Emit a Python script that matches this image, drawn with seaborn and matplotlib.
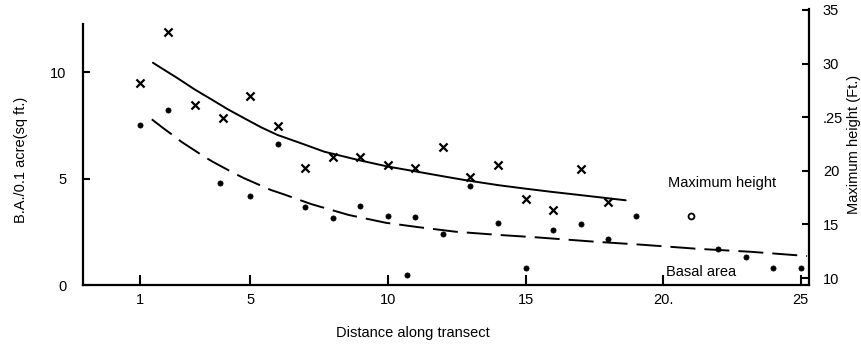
import matplotlib
matplotlib.use("Agg")
import matplotlib.pyplot as plt
import seaborn as sns
from matplotlib import font_manager

# ---------------- data ----------------
height_dist = [1, 2, 3, 4, 5, 6, 7, 8, 9, 10, 11, 12, 13, 14, 15, 16, 17, 18]
height_ft = [28.2, 32.9, 26.1, 24.9, 27.0, 24.2, 20.3, 21.3, 21.3, 20.5,
             20.3, 22.2, 19.4, 20.5, 17.4, 16.3, 20.2, 17.1]

basal_dist = [1, 2, 3.9, 5, 6, 7, 8, 9, 10, 10.7, 11, 12, 13, 14, 15, 16, 17,
              18, 19, 22, 23, 24, 25]
basal_sqft = [7.5, 8.2, 4.8, 4.2, 6.6, 3.65, 3.15, 3.7, 3.25, 0.45, 3.2, 2.4,
              4.65, 2.9, 0.8, 2.6, 2.85, 2.15, 3.25, 1.7, 1.3, 0.8, 0.8]

basal_open_dist = [21]
basal_open_sqft = [3.25]

height_fit_dist = [1.46, 1.88, 2.36, 2.97, 3.58, 4.18, 4.78, 5.39, 5.99, 6.84,
                   7.69, 8.93, 9.99, 10.99, 11.98, 12.83, 14.04, 15.01, 15.97,
                   16.94, 18.64]
height_fit_ft = [30.08, 29.4, 28.63, 27.60, 26.67, 25.74, 24.90, 24.06, 23.34,
                 22.57, 21.78, 21.0, 20.4, 19.95, 19.5, 19.12, 18.65, 18.33,
                 18.03, 17.75, 17.25]

basal_fit_dist = [1.42, 1.82, 2.22, 2.49, 3.33, 3.63, 4.42, 4.78, 5.75, 6.21,
                  7.21, 8.57, 9.93, 11.14, 12.47, 14.04, 15.37, 17.55, 19.24,
                  21.24, 23.18, 25.23]
basal_fit_sqft = [7.78, 7.38, 7.00, 6.73, 6.02, 5.79, 5.24, 5.01, 4.46, 4.26,
                  3.80, 3.29, 2.92, 2.71, 2.50, 2.35, 2.24, 2.03, 1.89, 1.70,
                  1.56, 1.36]

x_ticks = [1, 5, 10, 15, 20, 25]
x_tick_labels = ["1", "5", "10", "15", "20.", "25"]
left_ticks = [0, 5, 10]
left_tick_labels = ["0", "5", "10"]
right_ticks = [10, 15, 20, 25, 30, 35]
right_tick_labels = ["10", "15", "20", ".25", "30", "35"]

# ---------------- style ----------------
sns.set_theme(style="white")
names = {f.name for f in font_manager.fontManager.ttflist}
main_font = "Liberation Sans Narrow" if "Liberation Sans Narrow" in names else (
    "Liberation Sans" if "Liberation Sans" in names else "DejaVu Sans")
plt.rcParams["font.family"] = [main_font, "DejaVu Sans"]
plt.rcParams["lines.scale_dashes"] = False

FS = 10.5 if main_font == "Liberation Sans" else 11
fig = plt.figure(figsize=(8.61, 3.46), dpi=100)
ax = fig.add_axes([0.0964, 0.1763, 0.8432, 0.7977])
ax2 = ax.twinx()

# basal area (left axis)
sns.scatterplot(x=basal_dist, y=basal_sqft, ax=ax, color="black", s=14,
                marker="o", edgecolor="black", linewidth=0.5, zorder=3)
sns.scatterplot(x=basal_open_dist, y=basal_open_sqft, ax=ax, color="white",
                s=18, marker="o", edgecolor="black", linewidth=1.3, zorder=3)
sns.lineplot(x=basal_fit_dist, y=basal_fit_sqft, ax=ax, color="black",
             linewidth=1.4, linestyle=(0, (18, 6.5)), sort=False)

# maximum height (right axis)
sns.scatterplot(x=height_dist, y=height_ft, ax=ax2, color="black", s=34,
                marker="x", linewidth=1.6, zorder=3)
sns.lineplot(x=height_fit_dist, y=height_fit_ft, ax=ax2, color="black",
             linewidth=1.4, sort=False)

ax.set_xlim(-1.08, 25.3)
ax.set_ylim(0, 12.96)
ax2.set_ylim(9.35, 35.09)

for a in (ax, ax2):
    for s in a.spines.values():
        s.set_visible(False)
ax.spines["left"].set_visible(True)
ax.spines["bottom"].set_visible(True)
ax2.spines["right"].set_visible(True)
for s in (ax.spines["left"], ax.spines["bottom"], ax2.spines["right"]):
    s.set_color("black")
    s.set_linewidth(1.6)
ax.spines["left"].set_bounds(0, 12.25)

ax.set_xticks(x_ticks)
ax.set_xticklabels(x_tick_labels)
ax.set_yticks(left_ticks)
ax.set_yticklabels(left_tick_labels)
ax2.set_yticks(right_ticks)
ax2.set_yticklabels(right_tick_labels)

ax.tick_params(axis="x", direction="in", length=7, width=1.5, pad=6,
               labelsize=FS, colors="black", bottom=True)
ax.tick_params(axis="y", direction="in", length=5, width=1.5, pad=12,
               labelsize=FS, colors="black", left=True)
ax2.tick_params(axis="y", direction="in", length=5, width=1.5, pad=10,
                labelsize=FS, colors="black", right=True)

ax.set_xlabel("Distance along transect", fontsize=FS, color="black")
ax.xaxis.set_label_coords(0.455, -0.148)
ax.set_ylabel("B.A./0.1 acre(sq ft.)", fontsize=FS, color="black")
ax.yaxis.set_label_coords(-0.076, 0.453)
ax2.set_ylabel("Maximum height (Ft.)", fontsize=FS, color="black")
ax2.yaxis.set_label_coords(1.052, 0.511)

ax.text(20.17, 4.79, "Maximum height", fontsize=FS, ha="left", va="center",
        color="black")
ax.text(20.1, 0.62, "Basal area", fontsize=FS, ha="left", va="center",
        color="black")

fig.savefig("out.png", dpi=100, facecolor="white")
